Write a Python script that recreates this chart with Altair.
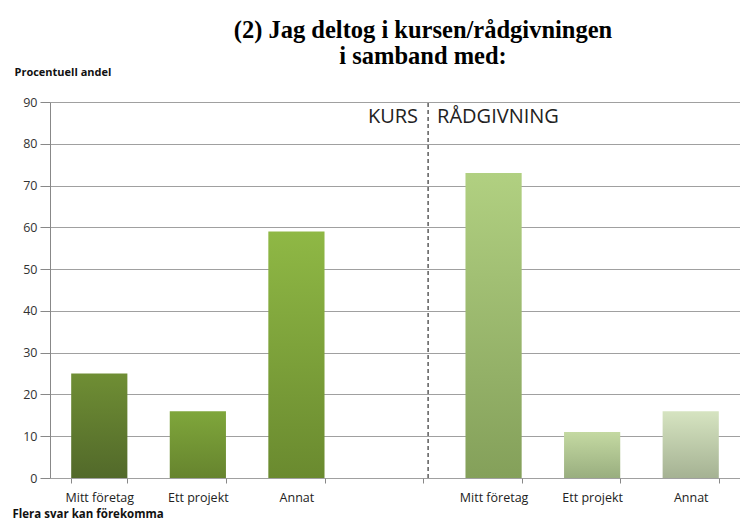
import altair as alt
import pandas as pd

keys = ["k1", "k2", "k3", "gap", "k4", "k5", "k6"]
labels = ["Mitt företag", "Ett projekt", "Annat", "", "Mitt företag", "Ett projekt", "Annat"]
values = [25, 16, 59, None, 73, 11, 16]
top_colors = ["#6f8e34", "#7fa63b", "#8fb845", None, "#b1d081", "#c4d9a2", "#d6e4c1"]
bottom_colors = ["#52692a", "#66842e", "#6a8a2f", None, "#84a05a", "#99ae7f", "#a5b293"]

group_labels = ["KURS", "RÅDGIVNING"]
divider_key = "gap"

df = pd.DataFrame({"key": keys, "label": labels, "value": values})

label_map = "{" + ",".join(f"'{k}':'{l}'" for k, l in zip(keys, labels)) + "}"

FONT = "Open Sans"

x_enc = alt.X(
    "key:N",
    scale=alt.Scale(domain=keys, paddingInner=0.43, paddingOuter=0.215),
    sort=keys,
    axis=alt.Axis(
        title="Flera svar kan förekomma",
        titleAngle=0,
        titleAlign="left",
        titleBaseline="middle",
        titleX=-38,
        titleY=36,
        titleFont=FONT,
        titleFontSize=11.5,
        titleFontWeight="bold",
        titleColor="#111",
        labelExpr=f"{label_map}[datum.value]",
        labelAngle=0,
        labelFont=FONT,
        labelFontSize=12.5,
        labelColor="#222",
        labelPadding=8,
        tickBand="extent",
        tickSize=5,
        tickColor="#888",
        domain=False,
        grid=False,
    ),
)

y_scale = alt.Scale(domain=[0, 90], nice=False)
y_axis = alt.Axis(
    title="Procentuell andel",
    titleAngle=0,
    titleAlign="left",
    titleBaseline="middle",
    titleX=-36,
    titleY=-30,
    titleFont=FONT,
    titleFontSize=11,
    titleFontWeight="bold",
    titleColor="#111",
    values=list(range(0, 91, 10)),
    labelFont=FONT,
    labelFontSize=12.5,
    labelColor="#333",
    labelPadding=3,
    tickSize=10,
    tickColor="#888",
    domainColor="#888",
    gridColor="#a0a0a0",
    gridWidth=1,
)

base = alt.Chart(df)

layers = []
for k, v, tc, bc in zip(keys, values, top_colors, bottom_colors):
    if v is None:
        continue
    grad = {
        "gradient": "linear",
        "x1": 0, "y1": 0, "x2": 0, "y2": 1,
        "stops": [{"offset": 0, "color": tc}, {"offset": 1, "color": bc}],
    }
    layers.append(
        base.transform_filter(alt.datum.key == k)
        .mark_bar(color=grad)
        .encode(x=x_enc, y=alt.Y("value:Q", scale=y_scale, axis=y_axis))
    )

div_df = pd.DataFrame({"key": [divider_key], "y0": [0], "y1": [90],
                       "ty": [86.4], "left": [group_labels[0]], "right": [group_labels[1]]})
div = alt.Chart(div_df)

rule = div.mark_rule(color="#333", strokeDash=[4, 3], strokeWidth=1.2, xOffset=5).encode(
    x=alt.X("key:N", bandPosition=1),
    y="y0:Q",
    y2="y1:Q",
)
t_left = div.mark_text(align="right", baseline="middle", dx=-5, font=FONT, fontSize=20, color="#222").encode(
    x=alt.X("key:N", bandPosition=1), y="ty:Q", text="left:N"
)
t_right = div.mark_text(align="left", baseline="middle", dx=14, font=FONT, fontSize=20, color="#222").encode(
    x=alt.X("key:N", bandPosition=1), y="ty:Q", text="right:N"
)

chart = alt.layer(*layers, rule, t_left, t_right).properties(
    width=690,
    height=376,
    padding={"left": 42, "top": 94, "right": 0, "bottom": 42},
    autosize=alt.AutoSizeParams(type="none"),
    title=alt.TitleParams(
        text=["(2) Jag deltog i kursen/rådgivningen", "i samband med:"],
        font="Liberation Serif",
        fontSize=24.5,
        fontWeight="bold",
        color="#000",
        anchor="middle",
        dx=28,
        dy=41,
        offset=38,
        lineHeight=26,
    ),
).configure_view(stroke=None)

chart.save("out.html", embed_options={"renderer": "svg", "actions": False})
